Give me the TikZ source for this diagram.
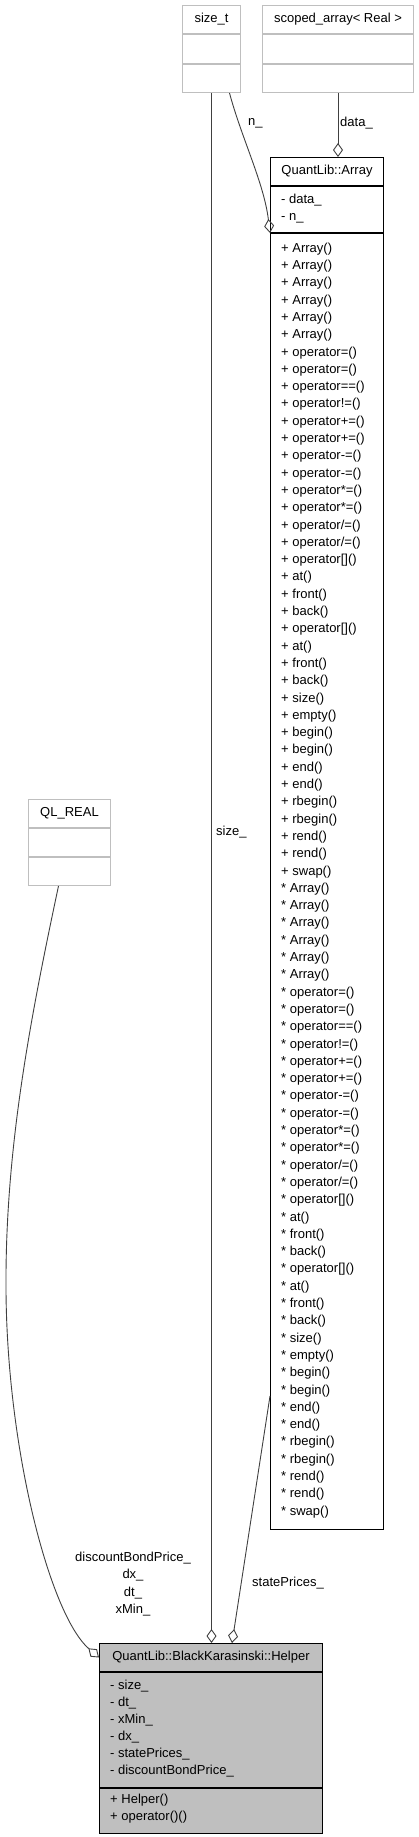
\documentclass[tikz,border=0pt]{standalone}
\usepackage{fontspec}
\setmainfont{Liberation Sans}
\usepackage{tikz}
\usetikzlibrary{arrows.meta, calc}
\definecolor{boxgray}{HTML}{BFBFBF}
\definecolor{edgegray}{HTML}{404040}
\newcommand{\dxfont}{\fontsize{13}{17.5}\selectfont}
\tikzset{
  part/.style  = {anchor=north west, inner sep=0pt, line width=1pt, font=\dxfont},
  ghost/.style = {part, draw=boxgray},
  klass/.style = {part, draw=black},
  focus/.style = {part, draw=black, fill=boxgray},
  row/.style   = {anchor=west, inner sep=0pt, text height=9.5pt, text depth=3pt, font=\dxfont},
  agg/.style   = {draw=edgegray, line width=0.9pt,
                  -{Diamond[open, length=14pt, width=10pt, line width=0.9pt]}},
  lab/.style   = {font=\dxfont, inner sep=0pt},
}

\begin{document}
\begin{tikzpicture}[x=1pt, y=-1pt]
  \useasboundingbox (0,0) rectangle (418,1837);

  % undocumented classes
  \node[ghost, minimum width=58pt, minimum height=28pt] (sizetT) at (182,5) {size\_t};
  \node[ghost, minimum width=58pt, minimum height=29pt] (sizetA) at (sizetT.south west) {};
  \node[ghost, minimum width=58pt, minimum height=28pt] (sizetM) at (sizetA.south west) {};

  \node[ghost, minimum width=151pt, minimum height=28pt] (scopedT) at (262,5) {scoped\_array< Real >};
  \node[ghost, minimum width=151pt, minimum height=29pt] (scopedA) at (scopedT.south west) {};
  \node[ghost, minimum width=151pt, minimum height=28pt] (scopedM) at (scopedA.south west) {};

  \node[ghost, minimum width=82pt, minimum height=28pt] (qlT) at (28,799) {QL\_REAL};
  \node[ghost, minimum width=82pt, minimum height=28pt] (qlA) at (qlT.south west) {};
  \node[ghost, minimum width=82pt, minimum height=28pt] (qlM) at (qlA.south west) {};

  % QuantLib::Array
  \node[klass, minimum width=113pt, minimum height=28pt] (arrT) at (270,157) {QuantLib::Array};
  \node[klass, minimum width=113pt, minimum height=46pt] (arrA) at (arrT.south west) {};
  \node[klass, minimum width=113pt, minimum height=1296pt] (arrM) at (arrA.south west) {};
  \foreach \t [count=\k from 0] in {- data\_, - n\_}
    \node[row] (arrA-\k) at ($(arrA.north west)+(11,{14.4+17.3*\k})$) {\t};
  \foreach \p [count=\j from 0] in {+,*}
    \foreach \t [count=\k from 0] in {Array(), Array(), Array(), Array(), Array(), Array(),
        operator=(), operator=(), operator==(), operator!=(), operator+=(), operator+=(),
        operator-=(), operator-=(), operator*=(), operator*=(), {operator/=()}, {operator/=()},
        operator[](), at(), front(), back(), operator[](), at(), front(), back(),
        size(), empty(), begin(), begin(), end(), end(), rbegin(), rbegin(), rend(), rend(), swap()}
      \node[row] (arrM-\j-\k) at ($(arrM.north west)+(11,{16+17.3*(37*\j+\k)})$) {\p{} \t};

  % QuantLib::BlackKarasinski::Helper
  \node[focus, minimum width=223pt, minimum height=28pt] (helperT) at (99,1643) {QuantLib::BlackKarasinski::Helper};
  \node[focus, minimum width=223pt, minimum height=115pt] (helperA) at (helperT.south west) {};
  \node[focus, minimum width=223pt, minimum height=45pt] (helperM) at (helperA.south west) {};
  \foreach \t [count=\k from 0] in {size\_, dt\_, xMin\_, dx\_, statePrices\_, discountBondPrice\_}
    \node[row] (helperA-\k) at ($(helperA.north west)+(11,{14+17.1*\k})$) {- \t};
  \foreach \t [count=\k from 0] in {Helper(), operator()()}
    \node[row] (helperM-\k) at ($(helperM.north west)+(11,{12+17.3*\k})$) {+ \t};

  % aggregations
  \draw[agg] (sizetM.south) -- (sizetM.south |- helperT.north);
  \draw[agg] ([xshift=18pt]sizetM.south) .. controls +(12,45) and +(-6,-50) .. (arrA.south west);
  \draw[agg] (scopedM.south) -- (scopedM.south |- arrT.north);
  \draw[agg] ([xshift=-11pt]qlM.south) .. controls (30,1020) and (5,1150) .. (6,1290)
        .. controls (7,1450) and (50,1615) .. (helperT.west);
  \draw[agg] ([yshift=134pt]arrM.south west) -- ([xshift=133pt]helperT.north west);

  \node[lab, anchor=west] (lsize) at (216,832) {size\_};
  \node[lab, anchor=west] (ln) at (248,123) {n\_};
  \node[lab, anchor=west] (ldata) at (340,123) {data\_};
  \node[lab] (lstate) at (288,1583) {statePrices\_};
  \node[lab, align=center] (lql) at (133,1584) {discountBondPrice\_\\dx\_\\dt\_\\xMin\_};
\end{tikzpicture}
\end{document}
